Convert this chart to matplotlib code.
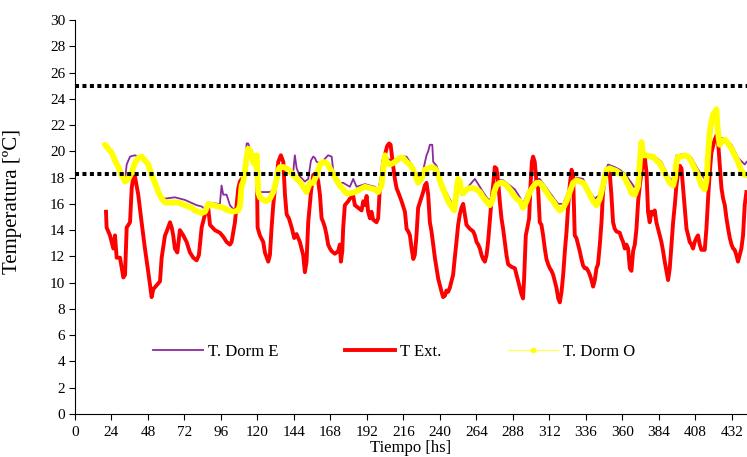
import matplotlib
matplotlib.use("Agg")
import matplotlib.pyplot as plt
from matplotlib.lines import Line2D

# Outdoor temperature (T Ext.): hours, degC
t_ext = [20.4, 20.8, 23, 25.2, 26.3, 27.4, 29.6, 31.8, 32.9, 34, 36.2, 37.3, 38.3, 39.4,
         41.6, 43.8, 46, 48.2, 50.4, 51.5, 53.7, 55.9, 57, 59.2, 60.3, 62.5, 63.6, 64.6,
         65.7, 67.3, 69, 71.2, 73.4, 75.6, 77.8, 80, 81.5, 83.3, 85.5, 87.6, 88.8, 92,
         95.3, 97.5, 99.7, 101.9, 103, 105.2, 106.3, 107.4, 108.5, 109.6, 110.7, 111.8,
         112.9, 113.9, 116, 119.5, 120.1, 121.6, 123.8, 124.9, 127.1, 128.2, 129.3,
         130.4, 131.5, 132.6, 133.7, 135.4, 137, 138.1, 139.2, 140.7, 142.5, 144.2,
         145.7, 147.9, 150.1, 151.2, 152.3, 153.4, 155.2, 156.7, 157.8, 158.9, 160,
         161.1, 162.2, 163.3, 164.4, 165.5, 166.5, 167.7, 168.8, 170.9, 173.1, 174.2,
         174.9, 175.8, 176.4, 177.5, 179.7, 180.8, 183, 184.1, 186.3, 188.5, 189.6,
         190.7, 191.8, 192.8, 194, 195, 196.1, 198.3, 199.4, 200.5, 201.6, 202.7, 203.8,
         205.3, 206.6, 207.6, 208.9, 210.4, 211.5, 213.2, 214.8, 217, 218.1, 219.2,
         220.3, 221.4, 222.5, 223.5, 224.6, 225.7, 226.8, 229, 230.1, 231.2, 232.3,
         233.4, 234.5, 235.6, 236.7, 237.8, 238.9, 240, 241.1, 242.1, 243.3, 244.3,
         245.4, 246.5, 247.6, 248.7, 249.8, 250.9, 252, 253.1, 254.2, 255.3, 256.4,
         257.5, 259.7, 261.9, 263, 264.1, 265.2, 266.3, 267.4, 268.4, 269.6, 270.7,
         271.7, 272.8, 273.9, 275, 276.1, 277.2, 278.3, 279.4, 280.5, 281.6, 282.7,
         283.8, 284.9, 287.1, 289.3, 290.4, 291.5, 292.6, 293.7, 294.7, 295.4, 296.5,
         297.4, 298.7, 299.6, 300.5, 301.3, 302.4, 303.5, 304.6, 305.7, 306.8, 307.9,
         309, 310.1, 311.2, 312.3, 313.4, 314.5, 315.6, 316.7, 317.8, 318.9, 320,
         321.1, 322.2, 323.3, 324.3, 325.4, 326.6, 327.6, 328.7, 329.8, 330.9, 332,
         333.1, 334.2, 335.3, 336.4, 337.5, 338.6, 339.7, 340.8, 341.9, 343, 344,
         345.2, 346.3, 347.3, 348.5, 349.6, 350.6, 351.7, 352.8, 353.9, 355, 356.1,
         358.3, 359.4, 360.5, 361.6, 362.7, 363.8, 364.9, 366, 367.1, 368.2, 369.3,
         370.4, 371.5, 372.6, 373.6, 374.8, 375.9, 376.9, 378, 379.1, 380.2, 381.3,
         382.4, 383.5, 384.6, 385.7, 386.8, 387.9, 389, 390.1, 391.2, 392.3, 393.4,
         394.5, 395.6, 396.7, 397.8, 398.9, 400, 401.1, 402.2, 403.3, 404.3, 405.5,
         406.5, 407.6, 408.7, 409.8, 410.9, 412, 414.2, 415.3, 416.4, 417.5, 418.6,
         419.7, 420.8, 421.9, 423, 424.1, 425.2, 426.3, 427.4, 428.5, 429.6, 430.7,
         431.8, 432.9, 433.9, 435, 436.1, 437.2, 438.3, 439.4, 440.5, 441.6]
temp_ext = [15.4, 14.2, 13.6, 12.6, 13.6, 11.9, 11.9, 10.4, 10.6, 14.2, 14.6, 17.2, 18.0, 18.1,
            16.7, 14.6, 12.6, 10.8, 8.9, 9.5, 9.8, 10.1, 11.9, 13.6, 13.9, 14.6, 14.2, 13.6,
            12.6, 12.3, 14.0, 13.6, 13.1, 12.3, 11.9, 11.7, 12.1, 14.2, 15.2, 15.7, 14.4, 14.0,
            13.8, 13.5, 13.1, 12.9, 13.1, 14.6, 15.9, 17.2, 17.7, 17.9, 17.7, 18.2,
            19.5, 20.0, 19.8, 19.5, 14.2, 13.6, 13.1, 12.3, 11.6, 12.1, 14.2,
            15.9, 17.2, 17.9, 19.2, 19.7, 19.2, 16.7, 15.2, 14.9, 14.2, 13.4,
            13.7, 13.1, 12.1, 10.8, 11.6, 14.6, 16.9, 18.2, 18.2, 18.2, 17.7,
            16.7, 14.9, 14.6, 14.2, 13.6, 12.9, 12.6, 12.4, 12.2, 12.4, 12.9,
            11.6, 12.4, 14.2, 15.9, 16.2, 16.4, 16.6, 15.9, 15.7, 15.5, 16.2,
            15.9, 16.6, 15.4, 14.9, 15.4, 14.8, 14.6, 14.9, 17.2, 17.9, 19.2, 19.7,
            20.4, 20.6, 20.5, 19.2, 17.9, 17.2, 16.7, 16.2, 15.4, 14.1, 13.9,
            13.6, 12.6, 11.8, 12.1, 13.6, 15.7, 16.1, 16.9, 17.4, 17.6, 16.7,
            14.6, 13.9, 12.9, 11.9, 11.1, 10.3, 9.8, 9.3, 8.9, 9.0, 9.4,
            9.3, 9.6, 10.1, 10.6, 11.9, 13.1, 14.4, 15.2, 15.7, 16.0, 15.2,
            14.4, 14.1, 13.9, 13.6, 13.1, 12.9, 12.6, 12.1, 11.8, 11.6, 12.1,
            13.1, 14.6, 16.2, 17.4, 18.8, 18.7, 17.7, 16.2, 14.9, 14.1, 13.1,
            12.1, 11.4, 11.2, 11.1, 10.6, 10.1, 9.6, 9.1, 8.8, 10.3, 13.6,
            14.1, 14.9, 17.4, 19.2, 19.6, 19.2, 17.7, 17.2, 14.6, 14.4, 13.6,
            12.6, 11.8, 11.4, 11.1, 10.9, 10.6, 10.1, 9.6, 8.8, 8.5, 9.3,
            10.6, 12.4, 13.9, 15.7, 17.4, 18.6, 18.2, 13.6, 13.4, 12.9, 12.4,
            11.8, 11.3, 11.1, 11.1, 10.9, 10.6, 10.2, 9.7, 10.2, 11.1, 11.4,
            12.9, 14.6, 16.9, 17.9, 18.4, 18.7, 18.4, 16.7, 14.6, 14.1, 13.9,
            13.8, 13.4, 13.1, 12.6, 12.9, 12.6, 11.1, 10.9, 12.4, 12.9, 14.1,
            16.2, 17.4, 18.4, 19.2, 19.5, 18.4, 15.4, 14.6, 15.4, 15.2, 15.5,
            14.6, 14.1, 13.6, 13.1, 12.4, 11.6, 10.9, 10.2, 11.1, 12.9, 14.6,
            15.9, 17.4, 18.4, 18.9, 18.7, 17.2, 15.7, 14.1, 13.6, 13.1, 12.9,
            12.6, 13.1, 13.4, 13.6, 12.9, 12.5, 12.5, 14.1, 16.4, 18.4, 19.9,
            20.4, 20.9, 21.2, 20.7, 18.9, 17.2, 16.4, 15.9, 14.9, 14.1, 13.4,
            12.9, 12.6, 12.5, 12.1, 11.6, 12.1, 12.6, 13.6, 15.9, 16.9]

# Bedroom east (T. Dorm E)
t_dorm_e = [19.7, 24.1, 28.5, 30.7, 32.9, 34, 36.2, 39.4, 41.6, 43.8, 46, 48.2, 50.4, 52.6,
            54.8, 57, 59.2, 65.7, 72.3, 80, 83.3, 85.5, 87.7, 94.2, 95.3, 96.4, 97.5, 99.7,
            101.9, 104.1, 107.4, 108.5, 109.6, 111.8, 112.9, 113.9, 115.1, 117.2, 118.3,
            119.5, 120.1, 121.6, 128.2, 130.4, 132.6, 133.7, 137, 141.4, 143.5, 144.6,
            145.8, 147.9, 151.2, 153.4, 155.2, 156.7, 157.8, 158.9, 161.1, 163.3, 166.5,
            168.8, 169.8, 172, 174.2, 176.4, 180.8, 183, 185.2, 190.7, 197.2, 199.4,
            201.6, 203.8, 206, 209.3, 213.7, 218, 220.3, 222.4, 224.6, 227.9, 231.2,
            232.3, 233.4, 235, 235.6, 237.8, 241.1, 243.3, 245.4, 247.6, 249.4, 250.3,
            250.9, 252, 254.2, 256.4, 263, 264.1, 266.3, 268.4, 270.7, 272.8, 275.7,
            278.3, 281.6, 286, 289.3, 292.6, 294.7, 299.1, 303.5, 305.7, 310.1, 314.5,
            317.8, 321.1, 325.4, 329.8, 334.2, 338.6, 341.9, 345.2, 348.5, 350.6, 355,
            358.3, 361.6, 366, 368.2, 370.4, 372.6, 374.8, 380.2, 385.7, 390.1, 393.4,
            395.6, 401.1, 405.5, 409.8, 414.2, 416.4, 417.5, 419.7, 420.8, 421.9, 424.1,
            427.4, 431.8, 436.1, 440.5, 441.8]
temp_dorm_e = [20.4, 19.8, 18.7, 18.1, 17.8, 19.0, 19.6, 19.7, 19.6, 19.6, 19.4, 19.0, 18.3, 17.7,
               17.0, 16.5, 16.4, 16.5, 16.3, 15.9, 15.8, 15.6, 16.1, 16.0, 16.0, 17.4, 16.7, 16.7,
               15.9, 15.6, 15.7, 16.5, 17.6, 18.6, 20.6, 20.6, 20.2, 19.4, 19.4,
               19.7, 16.9, 16.9, 16.9, 17.1, 18.0, 18.7, 18.9, 18.6, 18.4, 19.7,
               18.7, 18.1, 17.7, 17.9, 19.3, 19.6, 19.5, 19.2, 19.1, 19.3, 19.7,
               19.6, 18.6, 18.0, 17.6, 17.6, 17.3, 17.9, 17.3, 17.5, 17.3, 17.1,
               17.6, 19.9, 19.4, 19.3, 19.6, 19.6, 19.2, 18.8, 18.2, 18.0, 19.7,
               20.0, 20.5, 20.5, 19.2, 18.9, 17.7, 17.1, 16.6, 16.1, 15.8, 17.3,
               16.5, 17.9, 16.7, 17.0, 17.9, 17.7, 17.3, 16.9, 16.5, 16.2, 17.2,
               17.8, 17.8, 17.4, 17.1, 16.5, 16.0, 17.2, 17.9, 17.9, 17.2, 16.5,
               16.0, 16.0, 17.2, 18.0, 17.9, 16.9, 16.4, 16.7, 18.4, 19.0, 18.8,
               18.6, 18.3, 17.6, 17.2, 17.7, 19.8, 19.8, 19.7, 19.2, 18.1, 17.7,
               19.7, 19.8, 19.5, 18.6, 17.9, 19.9, 20.7, 22.4, 22.6, 22.0, 21.0,
               21.0, 20.5, 19.5, 19.0, 19.2]

# Bedroom west (T. Dorm O)
t_dorm_o = [19.7, 21.9, 24.1, 26.3, 28.5, 30.7, 32.9, 35.1, 37.3, 39.4, 41.6, 43.8, 46, 48.2,
            50.4, 52.6, 54.8, 57, 59.2, 61.3, 63.6, 65.7, 67.9, 70.1, 72.3, 74.5, 76.7,
            78.9, 81.1, 83.3, 85.5, 87.7, 90.9, 94.2, 97.5, 100.8, 104.1, 107.4, 108.5,
            109.6, 110.7, 111.8, 112.9, 113.9, 115.1, 116.2, 117.2, 118.3, 119.5, 120.5,
            121.6, 123.8, 126, 128.2, 130.4, 131.5, 132.6, 133.7, 134.8, 137, 139.2,
            141.4, 143.5, 145.8, 147.9, 150.1, 152.3, 154.5, 156.7, 158.9, 161.1, 163.3,
            165.5, 167.7, 169.8, 172, 174.2, 176.4, 178.6, 180.8, 184.1, 187.4, 190.7,
            194, 197.2, 199.4, 201.6, 203.8, 204.9, 207.1, 209.3, 211.5, 213.7, 215.8,
            218, 220.3, 222.4, 224.6, 225.7, 227.9, 230.1, 232.3, 234.5, 236.7, 238.9,
            241.1, 243.3, 245.4, 247.6, 249.4, 250.9, 252, 253.1, 254.2, 255.3, 257.5,
            259.7, 261.9, 264.1, 266.3, 268.4, 270.7, 272.8, 274.4, 275.7, 277.2, 279.4,
            281.6, 283.8, 286, 288.2, 290.4, 292.6, 294.7, 297, 299.1, 301.3, 303.5,
            305.7, 307.9, 310.1, 312.3, 314.5, 316.7, 318.9, 321.1, 323.3, 325.4, 327.6,
            329.8, 332, 334.2, 336.4, 338.6, 340.8, 343, 345.2, 347.3, 348.5, 349.6,
            351.7, 353.9, 356.1, 358.3, 360.5, 362.7, 364.9, 366, 368.2, 370.4, 371.5,
            372.6, 373.6, 375.9, 378, 380.2, 382.4, 384.6, 386.8, 389, 391.2, 393.4,
            394.5, 395.6, 396.7, 398.9, 401.1, 403.3, 405.5, 407.6, 409.8, 412, 414.2,
            415.3, 416.4, 417.5, 418.6, 419.7, 420.8, 421.9, 422.5, 423.4, 424.1, 425.2,
            427.4, 429.6, 431.8, 433.9, 436.1, 438.3, 440.5, 441.8]
temp_dorm_o = [20.5, 20.2, 19.9, 19.3, 18.8, 18.2, 17.7, 17.9, 18.4, 19.1, 19.5, 19.6, 19.3, 19.0,
               18.2, 17.6, 16.9, 16.4, 16.1, 16.1, 16.1, 16.1, 16.1, 16.0, 15.9, 15.8, 15.7,
               15.5, 15.4, 15.3, 15.4, 16.0, 15.9, 15.8, 15.7, 15.5, 15.4, 15.5, 15.9,
               17.4, 17.7, 18.5, 19.6, 20.2, 20.1, 19.7, 19.2, 19.0, 19.7, 16.9,
               16.5, 16.3, 16.2, 16.4, 16.9, 17.3, 17.9, 18.6, 18.8, 18.8, 18.7,
               18.5, 18.2, 17.9, 17.7, 17.3, 16.9, 17.6, 17.6, 18.2, 19.0, 19.2,
               19.1, 18.7, 18.3, 17.8, 17.4, 17.1, 16.8, 16.8, 16.9, 17.1, 17.3,
               17.2, 17.1, 16.9, 17.4, 19.7, 19.2, 19.0, 19.1, 19.3, 19.5, 19.5,
               19.2, 19.0, 18.6, 17.9, 17.6, 17.9, 18.6, 18.7, 18.8, 18.7, 18.2,
               17.4, 16.8, 16.2, 15.8, 15.5, 16.9, 17.9, 17.7, 16.9, 16.8, 17.1,
               17.2, 17.2, 17.1, 16.9, 16.5, 16.2, 15.9, 16.2, 16.9, 17.4, 17.6,
               17.6, 17.4, 17.1, 16.7, 16.4, 16.2, 15.7, 16.2, 16.9, 17.3, 17.6,
               17.6, 17.3, 16.9, 16.5, 16.2, 15.8, 15.5, 15.7, 16.2, 16.9, 17.6,
               17.8, 17.7, 17.6, 17.2, 16.7, 16.2, 15.9, 16.4, 17.4, 18.1, 18.6,
               18.7, 18.6, 18.5, 18.3, 18.2, 17.7, 17.2, 16.8, 16.7, 17.4, 19.2,
               20.7, 19.7, 19.7, 19.6, 19.6, 19.3, 19.1, 18.6, 18.1, 17.6, 17.4,
               17.9, 19.2, 19.6, 19.6, 19.7, 19.6, 19.2, 18.7, 18.2, 17.4, 17.1,
               17.7, 19.7, 21.5, 22.3, 22.8, 23.0, 23.2, 22.0, 21.0, 20.5, 20.7,
               20.9, 20.6, 20.2, 19.7, 19.2, 18.5, 18.2, 18.2]

# comfort band limits
limits = [25.0, 18.3]

x_ticks = list(range(0, 433, 24))
y_ticks = list(range(0, 31, 2))

plt.rcParams['font.family'] = ['Liberation Serif', 'DejaVu Serif']

fig = plt.figure(figsize=(7.47, 4.57), dpi=100)
ax = fig.add_axes([75 / 747, 43 / 457, 672 / 747, 394 / 457])

ax.plot(t_dorm_e, temp_dorm_e, color='#8a2b9b', lw=1.3, zorder=2, label='T. Dorm E')
ax.plot(t_ext, temp_ext, color='#ff0000', lw=2.8, zorder=3, label='T Ext.')
ax.plot(t_dorm_o, temp_dorm_o, color='#ffff00', lw=4.2, zorder=4,
        solid_joinstyle='round', solid_capstyle='round')
for lim in limits:
    ax.axhline(lim, color='black', lw=2.9, linestyle=(0, (1, 0.85)),
               dash_capstyle='butt', zorder=5)

ax.set_xlim(0, 442)
ax.set_ylim(0, 30)
ax.set_xticks(x_ticks)
ax.set_yticks(y_ticks)
ax.tick_params(axis='both', direction='out', length=4, width=0.8, labelsize=11)
ax.tick_params(axis='x', pad=5)
ax.tick_params(axis='y', pad=3)
ax.spines['top'].set_visible(False)
ax.spines['right'].set_visible(False)

ax.set_xlabel('Tiempo [hs]', fontsize=12, labelpad=0)
ax.set_ylabel('Temperatura [ºC]', fontsize=15)
ax.yaxis.set_label_coords(-0.079, 0.54)

handles = [Line2D([0], [0], color='#8a2b9b', lw=1.3),
           Line2D([0], [0], color='#ff0000', lw=2.8),
           Line2D([0], [0], color='#ffff66', lw=1, marker='o', ms=3,
                  markerfacecolor='#ffff00', markeredgecolor='#ffff00')]
ax.legend(handles, ['T. Dorm E', 'T Ext.', 'T. Dorm O'], ncol=3, frameon=False,
          fontsize=12, loc='center', bbox_to_anchor=(0.475, 0.157),
          handlelength=3.0, columnspacing=4.0, handletextpad=0.3)

fig.savefig('out.png', dpi=100)
